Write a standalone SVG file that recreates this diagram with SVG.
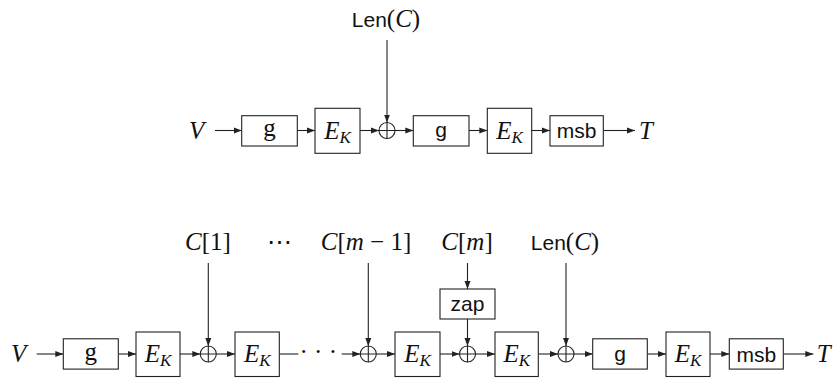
<svg xmlns="http://www.w3.org/2000/svg" width="837" height="378" viewBox="0 0 837 378">
<style>
.bx{fill:#fff;stroke:#222;stroke-width:1.1}
.ln{fill:none;stroke:#222;stroke-width:1.1}
.ar{fill:none;stroke:#222;stroke-width:1.1;marker-end:url(#ah)}
.m{font-family:"Liberation Serif",serif;font-size:25px;fill:#111}
.i{font-style:italic}
.s{font-family:"Liberation Sans",sans-serif;font-size:21px;fill:#111}
.sub{font-size:17px}
.ox{fill:#fff;stroke:#222;stroke-width:1.1}
</style>
<defs>
<marker id="ah" markerUnits="userSpaceOnUse" markerWidth="9" markerHeight="7" refX="8" refY="3.5" orient="auto">
<path d="M0,0.5 L8,3.5 L0,6.5 Z" fill="#222"/>
</marker>
</defs>

<g id="connectors">
<line class="ar" x1="215" y1="130.5" x2="241.7" y2="130.5"/>
<line class="ar" x1="297.3" y1="130.5" x2="315" y2="130.5"/>
<line class="ar" x1="360" y1="130.5" x2="379" y2="130.5"/>
<line class="ar" x1="387" y1="40" x2="387" y2="122.5"/>
<line class="ar" x1="395" y1="130.5" x2="413.3" y2="130.5"/>
<line class="ar" x1="469" y1="130.5" x2="487.3" y2="130.5"/>
<line class="ar" x1="531.7" y1="130.5" x2="550" y2="130.5"/>
<line class="ar" x1="603.3" y1="130.5" x2="635" y2="130.5"/>
<line class="ar" x1="36.7" y1="354" x2="63.3" y2="354"/>
<line class="ar" x1="118.3" y1="354" x2="136" y2="354"/>
<line class="ar" x1="180" y1="354" x2="200.3" y2="354"/>
<line class="ar" x1="208.3" y1="263" x2="208.3" y2="346"/>
<line class="ar" x1="216.3" y1="354" x2="235" y2="354"/>
<line class="ln" x1="279.3" y1="354" x2="298.3" y2="354"/>
<line class="ar" x1="341.7" y1="354" x2="360.3" y2="354"/>
<line class="ar" x1="368.3" y1="263" x2="368.3" y2="346"/>
<line class="ar" x1="376.3" y1="354" x2="395" y2="354"/>
<line class="ar" x1="440" y1="354" x2="459.5" y2="354"/>
<line class="ar" x1="467.5" y1="263" x2="467.5" y2="289"/>
<line class="ar" x1="467.5" y1="319" x2="467.5" y2="346"/>
<line class="ar" x1="475.5" y1="354" x2="495" y2="354"/>
<line class="ar" x1="538.3" y1="354" x2="558" y2="354"/>
<line class="ar" x1="566" y1="263" x2="566" y2="346"/>
<line class="ar" x1="574" y1="354" x2="592.7" y2="354"/>
<line class="ar" x1="647.3" y1="354" x2="666" y2="354"/>
<line class="ar" x1="710" y1="354" x2="729.3" y2="354"/>
<line class="ar" x1="783.3" y1="354" x2="813.3" y2="354"/>
</g>

<g id="top-len"><text x="386" y="27" text-anchor="middle"><tspan class="s">Len</tspan><tspan class="m">(</tspan><tspan class="m i">C</tspan><tspan class="m">)</tspan></text></g>
<g id="top-V"><text class="m i" x="189" y="138.5">V</text></g>
<g id="top-g1"><rect class="bx" x="241.7" y="115.7" width="55.6" height="30.3"/><text class="m" x="269.5" y="136" text-anchor="middle">g</text></g>
<g id="top-ek1"><rect class="bx" x="315" y="108.3" width="45" height="45"/><text class="m i" x="337.5" y="138.5" text-anchor="middle">E<tspan class="sub" dy="4">K</tspan></text></g>
<g id="top-xor"><circle class="ox" cx="387" cy="130.5" r="8"/><path class="ln" d="M379,130.5 H395 M387,122.5 V138.5"/></g>
<g id="top-g2"><rect class="bx" x="413.3" y="115.7" width="55.7" height="30.3"/><text class="s" x="441.2" y="137" text-anchor="middle">g</text></g>
<g id="top-ek2"><rect class="bx" x="487.3" y="108.3" width="44.4" height="45"/><text class="m i" x="509.5" y="138.5" text-anchor="middle">E<tspan class="sub" dy="4">K</tspan></text></g>
<g id="top-msb"><rect class="bx" x="550" y="115.7" width="53.3" height="30.3"/><text class="s" x="576.7" y="138" text-anchor="middle">msb</text></g>
<g id="top-T"><text class="m i" x="639" y="138.5">T</text></g>

<g id="lbl-c1"><text class="m" x="208" y="250" text-anchor="middle"><tspan class="i">C</tspan>[1]</text></g>
<g id="lbl-dots"><text class="m" x="279" y="250" text-anchor="middle">⋯</text></g>
<g id="lbl-cm1"><text class="m" x="366" y="250" text-anchor="middle"><tspan class="i">C</tspan>[<tspan class="i">m</tspan> − 1]</text></g>
<g id="lbl-cm"><text class="m" x="467" y="250" text-anchor="middle"><tspan class="i">C</tspan>[<tspan class="i">m</tspan>]</text></g>
<g id="lbl-len"><text x="565" y="250" text-anchor="middle"><tspan class="s">Len</tspan><tspan class="m">(</tspan><tspan class="m i">C</tspan><tspan class="m">)</tspan></text></g>

<g id="bot-V"><text class="m i" x="11" y="361.5">V</text></g>
<g id="bot-g1"><rect class="bx" x="63.3" y="338.8" width="55" height="30.3"/><text class="m" x="90.8" y="359.5" text-anchor="middle">g</text></g>
<g id="bot-ek1"><rect class="bx" x="136" y="332" width="44" height="44.5"/><text class="m i" x="158" y="362" text-anchor="middle">E<tspan class="sub" dy="4">K</tspan></text></g>
<g id="bot-xor1"><circle class="ox" cx="208.3" cy="354" r="8"/><path class="ln" d="M200.3,354 H216.3 M208.3,346 V362"/></g>
<g id="bot-ek2"><rect class="bx" x="235" y="332" width="44.3" height="44.5"/><text class="m i" x="257.2" y="362" text-anchor="middle">E<tspan class="sub" dy="4">K</tspan></text></g>
<g id="bot-dots"><text class="m" x="318.3" y="360" text-anchor="middle">· · ·</text></g>
<g id="bot-xor2"><circle class="ox" cx="368.3" cy="354" r="8"/><path class="ln" d="M360.3,354 H376.3 M368.3,346 V362"/></g>
<g id="bot-ek3"><rect class="bx" x="395" y="332" width="45" height="44.5"/><text class="m i" x="417.5" y="362" text-anchor="middle">E<tspan class="sub" dy="4">K</tspan></text></g>
<g id="bot-zap"><rect class="bx" x="440" y="289" width="55" height="30"/><text class="s" x="467.5" y="310.5" text-anchor="middle">zap</text></g>
<g id="bot-xor3"><circle class="ox" cx="467.5" cy="354" r="8"/><path class="ln" d="M459.5,354 H475.5 M467.5,346 V362"/></g>
<g id="bot-ek4"><rect class="bx" x="495" y="332" width="43.3" height="44.5"/><text class="m i" x="516.7" y="362" text-anchor="middle">E<tspan class="sub" dy="4">K</tspan></text></g>
<g id="bot-xor4"><circle class="ox" cx="566" cy="354" r="8"/><path class="ln" d="M558,354 H574 M566,346 V362"/></g>
<g id="bot-g2"><rect class="bx" x="592.7" y="338.8" width="54.6" height="30.3"/><text class="s" x="620" y="360.5" text-anchor="middle">g</text></g>
<g id="bot-ek5"><rect class="bx" x="666" y="332" width="44" height="44.5"/><text class="m i" x="688" y="362" text-anchor="middle">E<tspan class="sub" dy="4">K</tspan></text></g>
<g id="bot-msb"><rect class="bx" x="729.3" y="338.8" width="54" height="30.3"/><text class="s" x="756.3" y="361.5" text-anchor="middle">msb</text></g>
<g id="bot-T"><text class="m i" x="816.7" y="361.5">T</text></g>
</svg>
